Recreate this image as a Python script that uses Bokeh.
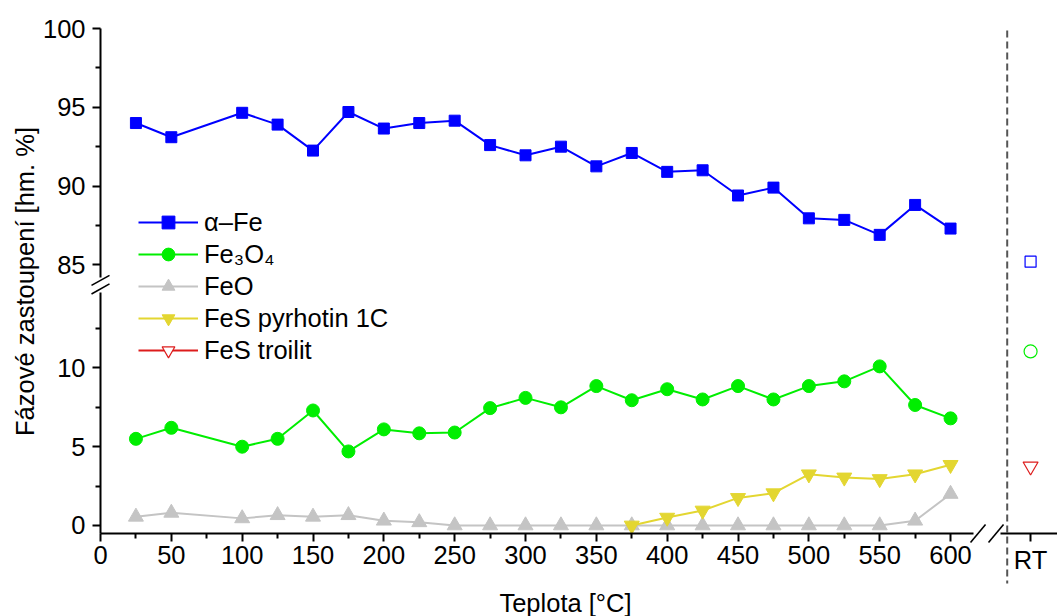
import math

from bokeh.plotting import figure
from bokeh.models import (Range1d, LinearAxis, FixedTicker,
                          CustomJSTickFormatter, Legend, LegendItem, Label)
from bokeh.embed import file_html
from bokeh.resources import INLINE

# ---- data -------------------------------------------------------------
temperature = [25, 50, 100, 125, 150, 175, 200, 225, 250, 275, 300, 325,
               350, 375, 400, 425, 450, 475, 500, 525, 550, 575, 600]
alpha_fe = [94.0, 93.1, 94.65, 93.9, 92.25, 94.7, 93.65, 94.0, 94.15, 92.6,
            91.95, 92.5, 91.25, 92.1, 90.9, 91.0, 89.4, 89.9, 87.95, 87.85,
            86.9, 88.8, 87.3]
fe3o4 = [5.5, 6.2, 5.0, 5.5, 7.3, 4.7, 6.1, 5.85, 5.9, 7.45, 8.1, 7.5,
         8.85, 7.95, 8.65, 8.0, 8.85, 8.0, 8.85, 9.15, 10.1, 7.65, 6.8]
feo = [0.55, 0.8, 0.45, 0.65, 0.55, 0.65, 0.3, 0.2, 0.0, 0.0, 0.0, 0.0,
       0.0, 0.0, 0.0, 0.0, 0.0, 0.0, 0.0, 0.0, 0.0, 0.3, 2.0]
pyrrhotite_temperature = [375, 400, 425, 450, 475, 500, 525, 550, 575, 600]
pyrrhotite = [0.0, 0.5, 0.95, 1.75, 2.05, 3.25, 3.05, 2.95, 3.25, 3.85]

# room-temperature reference sample
rt_label = "RT"
rt_alpha_fe = [85.2]
rt_fe3o4 = [11.05]
rt_troilite = [3.75]

temp_ticks = [0, 50, 100, 150, 200, 250, 300, 350, 400, 450, 500, 550, 600]
temp_minor_ticks = [25, 75, 125, 175, 225, 275, 325, 375, 425, 475, 525, 575]
low_ticks = [0, 5, 10]
low_minor_ticks = [2.5, 7.5, 12.5]
high_ticks = [85, 90, 95, 100]
high_minor_ticks = [87.5, 92.5, 97.5]

x_title = "Teplota [°C]"
y_title = "Fázové zastoupení [hm. %]"

# ---- geometry (data units) --------------------------------------------
# the plot area fills the page; axes sit at fixed data positions inside it
X_START, X_END = -70.59, 675.5
LO_START, LO_END = -5.78, 33.33      # lower panel scale (minor phases)
UP_START, UP_END = 62.67, 101.78     # upper panel scale (alpha-Fe)

AXIS_X = 0.0                          # where the y axes stand
AXIS_Y = -0.51                        # where the x axes stand
LO_AXIS_TOP = 14.79                   # lower y axis ends here ...
UP_AXIS_BOTTOM = 84.19                # ... upper y axis starts here
UP_AXIS_TOP = 100.0
T_AXIS_END = 616.2                    # temperature axis ends here ...
RT_AXIS_START = 635.3                 # ... RT axis starts here
RT_X = 656.5                          # slot of the RT sample
SEP_X = 640.0                         # dashed separator
SEP_TOP, SEP_BOTTOM = 31.43, -3.68

Y_SLASHES = [15.02, 15.56]            # centres of the y-axis break marks
X_SLASHES = [619.4, 632.1]            # centres of the x-axis break marks

X_TITLE_POS = (328.2, -4.95)
Y_TITLE_POS = (-53.3, 15.49)

FONT = "Liberation Sans"
FONT_SIZE = "25.5px"
BLUE = "#0000FF"
GREEN = "#00EE00"
GRAY = "#C4C4C4"
YELLOW = "#E3D631"
RED = "#DD1C1C"
SEP_COLOR = "#555555"

p = figure(width=1057, height=616,
           x_range=Range1d(X_START, X_END),
           y_range=Range1d(LO_START, LO_END),
           x_axis_location=None, y_axis_location=None,
           output_backend="svg", toolbar_location=None, min_border=0)
p.extra_y_ranges = {"upper": Range1d(UP_START, UP_END)}
p.title.visible = False
p.grid.visible = False
p.outline_line_color = None
p.background_fill_color = "white"
p.border_fill_color = "white"


def style_axis(ax):
    ax.axis_line_color = "black"
    ax.axis_line_width = 2
    ax.major_tick_line_color = "black"
    ax.major_tick_line_width = 2
    ax.minor_tick_line_color = "black"
    ax.minor_tick_line_width = 2
    ax.major_tick_in = 0
    ax.major_tick_out = 8
    ax.minor_tick_in = 0
    ax.minor_tick_out = 5
    ax.major_label_text_font = FONT
    ax.major_label_text_font_size = FONT_SIZE
    ax.major_label_text_color = "black"
    return ax


# ---- axes -------------------------------------------------------------
temp_axis = style_axis(LinearAxis(
    fixed_location=AXIS_Y, bounds=(0, T_AXIS_END),
    ticker=FixedTicker(ticks=temp_ticks, minor_ticks=temp_minor_ticks),
    major_label_standoff=5))
rt_axis = style_axis(LinearAxis(
    fixed_location=AXIS_Y, bounds=(RT_AXIS_START, X_END),
    ticker=FixedTicker(ticks=[RT_X], minor_ticks=[]),
    formatter=CustomJSTickFormatter(args=dict(name=rt_label),
                                    code="return name;"),
    major_label_standoff=5))
low_axis = style_axis(LinearAxis(
    fixed_location=AXIS_X, bounds=(AXIS_Y, LO_AXIS_TOP),
    ticker=FixedTicker(ticks=low_ticks, minor_ticks=low_minor_ticks),
    major_label_standoff=7))
up_axis = style_axis(LinearAxis(
    y_range_name="upper", fixed_location=AXIS_X,
    bounds=(UP_AXIS_BOTTOM, UP_AXIS_TOP),
    ticker=FixedTicker(ticks=high_ticks, minor_ticks=high_minor_ticks),
    major_label_standoff=7))
p.add_layout(temp_axis, "below")
p.add_layout(rt_axis, "below")
p.add_layout(low_axis, "left")
p.add_layout(up_axis, "left")

p.add_layout(Label(x=X_TITLE_POS[0], y=X_TITLE_POS[1], text=x_title,
                   text_align="center", text_baseline="alphabetic",
                   text_font=FONT, text_font_size=FONT_SIZE,
                   text_color="black"))
p.add_layout(Label(x=Y_TITLE_POS[0], y=Y_TITLE_POS[1], text=y_title,
                   angle=math.pi / 2, text_align="center",
                   text_baseline="alphabetic", text_font=FONT,
                   text_font_size=FONT_SIZE, text_color="black"))

# ---- axis break marks and RT separator --------------------------------
p.segment(x0=[-6.35, -6.35], y0=[c - 0.32 for c in Y_SLASHES],
          x1=[6.35, 6.35], y1=[c + 0.32 for c in Y_SLASHES],
          line_color="black", line_width=1.6)
p.segment(x0=[c - 5.3 for c in X_SLASHES], y0=[AXIS_Y - 0.57] * 2,
          x1=[c + 5.3 for c in X_SLASHES], y1=[AXIS_Y + 0.57] * 2,
          line_color="black", line_width=1.6)
p.segment(x0=[SEP_X], y0=[SEP_TOP], x1=[SEP_X], y1=[SEP_BOTTOM],
          line_color=SEP_COLOR, line_width=2, line_dash="7 4")

# ---- series -----------------------------------------------------------
fe_line = p.line(temperature, alpha_fe, color=BLUE, line_width=2,
                 y_range_name="upper")
fe_pts = p.scatter(temperature, alpha_fe, marker="square", size=11,
                   color=BLUE, y_range_name="upper")

mag_line = p.line(temperature, fe3o4, color=GREEN, line_width=2)
mag_pts = p.scatter(temperature, fe3o4, marker="circle", size=13, color=GREEN)

feo_line = p.line(temperature, feo, color=GRAY, line_width=2)
feo_pts = p.scatter(temperature, feo, marker="triangle", size=15, color=GRAY)

po_line = p.line(pyrrhotite_temperature, pyrrhotite, color=YELLOW, line_width=2)
po_pts = p.scatter(pyrrhotite_temperature, pyrrhotite,
                   marker="inverted_triangle", size=15, color=YELLOW)

# room-temperature sample (open symbols)
p.scatter([RT_X] * len(rt_alpha_fe), rt_alpha_fe, marker="square", size=11,
          fill_color=None, line_color=BLUE, line_width=1.2,
          y_range_name="upper")
p.scatter([RT_X] * len(rt_fe3o4), rt_fe3o4, marker="circle", size=13,
          fill_color=None, line_color=GREEN, line_width=1.2)
tr_line = p.line([RT_X] * len(rt_troilite), rt_troilite, color=RED,
                 line_width=2)
tr_pts = p.scatter([RT_X] * len(rt_troilite), rt_troilite,
                   marker="inverted_triangle", size=15, fill_color="white",
                   line_color=RED, line_width=1.2)

# ---- legend -----------------------------------------------------------
legend = Legend(
    items=[
        LegendItem(label="α–Fe", renderers=[fe_line, fe_pts]),
        LegendItem(label="Fe₃O₄", renderers=[mag_line, mag_pts]),
        LegendItem(label="FeO", renderers=[feo_line, feo_pts]),
        LegendItem(label="FeS pyrhotin 1C", renderers=[po_line, po_pts]),
        LegendItem(label="FeS troilit", renderers=[tr_line, tr_pts]),
    ],
    location=(138, 250), padding=0, margin=0, spacing=0,
    glyph_width=60, glyph_height=32, label_height=32, label_standoff=6,
    label_text_font=FONT, label_text_font_size=FONT_SIZE,
    label_text_color="black",
    border_line_color=None, background_fill_alpha=0)
p.add_layout(legend)

open("out.html", "w").write(file_html(p, INLINE))
